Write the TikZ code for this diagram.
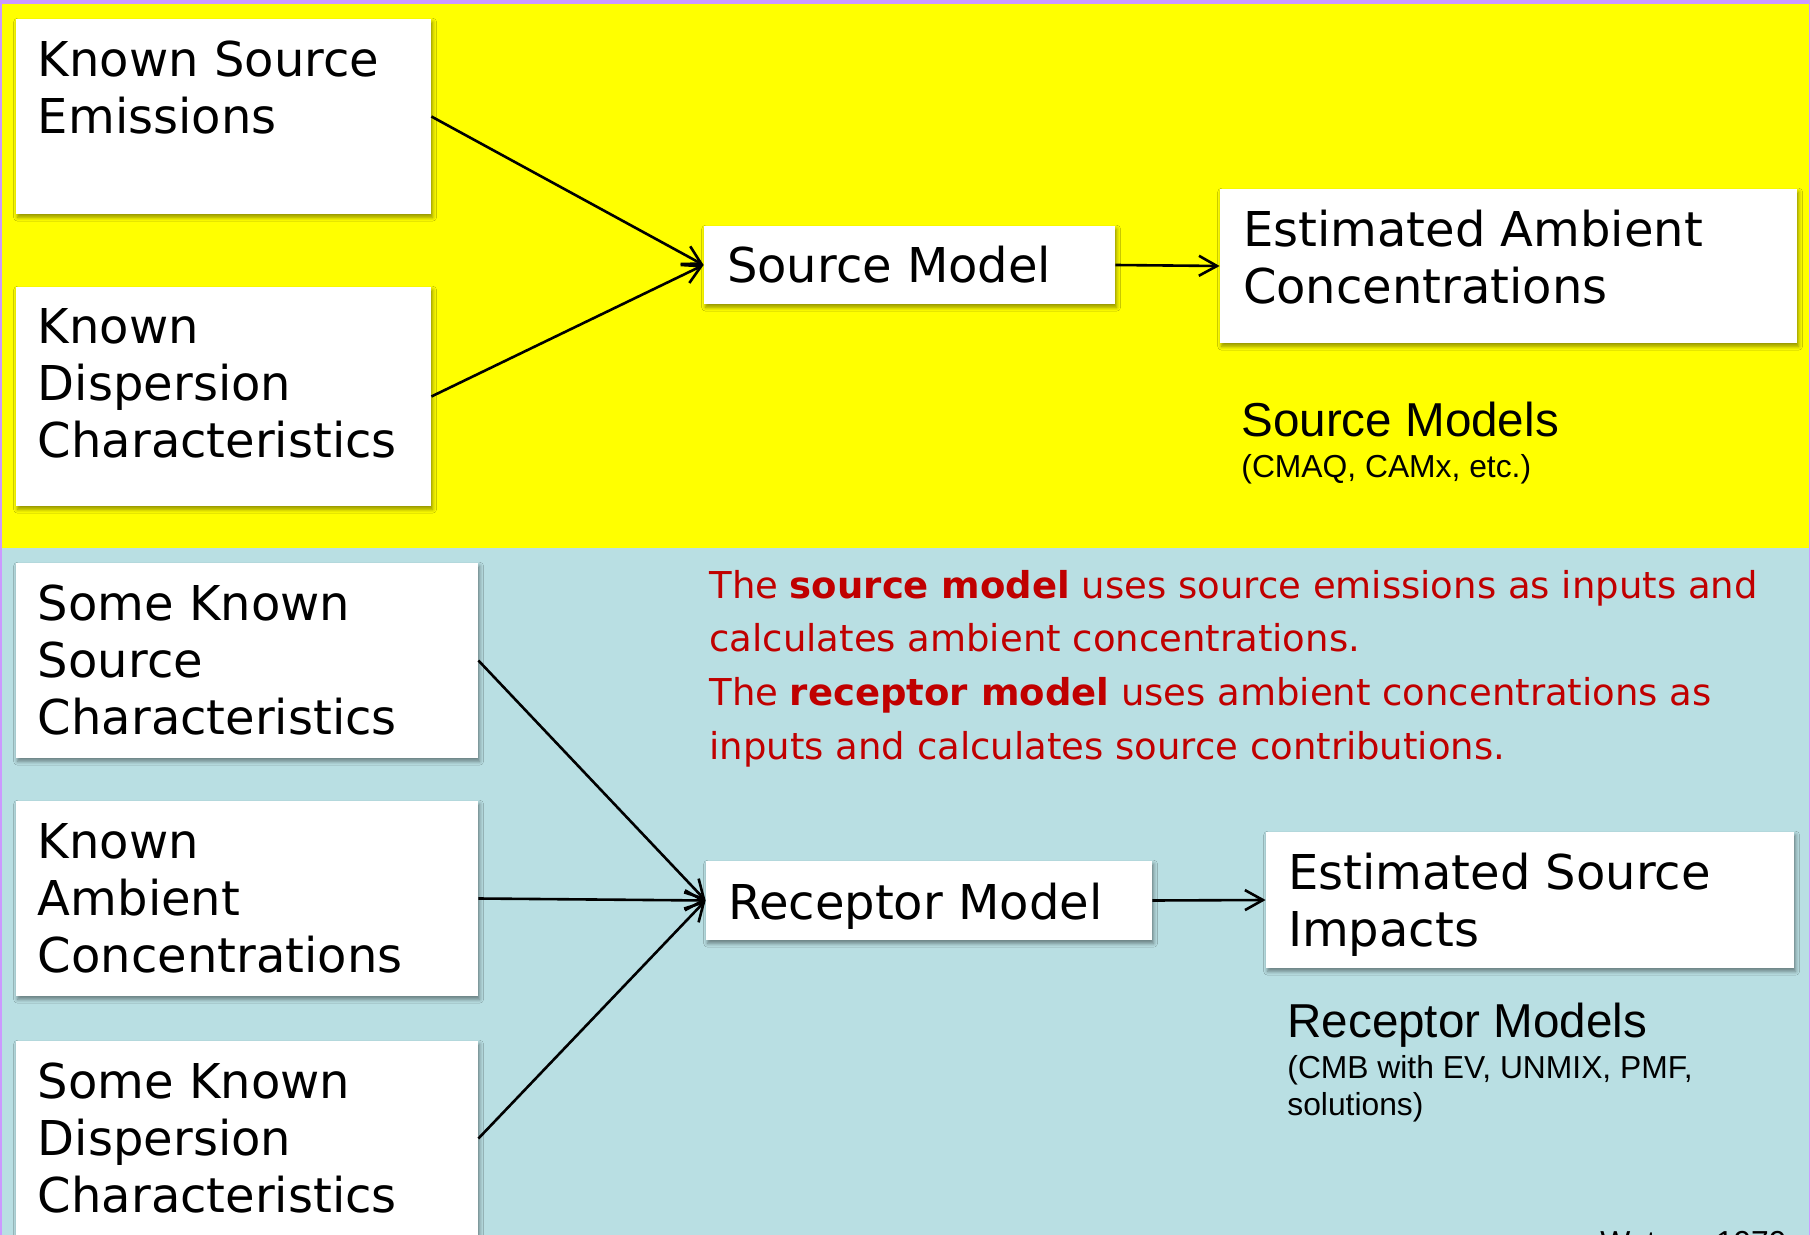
\documentclass[tikz,border=0pt]{standalone}
\usepackage{fontspec}
\setmainfont{DejaVu Sans}
\newfontfamily\arialfont{Liberation Sans}
\usetikzlibrary{arrows.meta,shadows.blur,calc,fit}

\definecolor{framecol}{HTML}{CC99FF}
\definecolor{topband}{HTML}{FFFF00}
\definecolor{lowband}{HTML}{B9DFE3}
\definecolor{notecol}{HTML}{C00000}

\begin{document}
\begin{tikzpicture}[x=0.5pt,y=-0.5pt,
  box/.style={fill=white, draw=none, inner sep=0pt,
    blur shadow={shadow xshift=0.8pt, shadow yshift=-1.6pt,
                 shadow blur radius=2pt, shadow opacity=45}},
  boxtext/.style={inner sep=0pt, anchor=base west,
    font=\fontsize{24}{28.5}\selectfont},
  link/.style={line width=1.3pt,
    -{Straight Barb[length=9pt,width=10pt,line width=1.3pt]}},
  modelname/.style={inner sep=0pt, anchor=base west,
    font=\arialfont\fontsize{23.8}{28}\selectfont},
  modellist/.style={inner sep=0pt, anchor=base west,
    font=\arialfont\fontsize{15.9}{18.5}\selectfont},
]
\useasboundingbox (0,0) rectangle (1810,1235);
\clip (0,0) rectangle (1810,1235);

% background bands
\fill[framecol] (0,0) rectangle (1810,1240);
\fill[topband] (1.5,4) rectangle (1808.5,548);
\fill[lowband] (1.5,548) rectangle (1808.5,1240);

% source-model side
\node[box, fit={(16,19) (431,214)}] (kse) {};
\node[boxtext] (kse-t) at ($(kse.north west)+(22,58)$)
  {\parbox[t]{200pt}{Known Source\\Emissions}};

\node[box, fit={(16,287) (431,506)}] (kdc) {};
\node[boxtext] (kdc-t) at ($(kdc.north west)+(22,57)$)
  {\parbox[t]{200pt}{Known\\Dispersion\\Characteristics}};

\node[box, fit={(704,226) (1115,304)}] (smod) {};
\node[boxtext] (smod-t) at ($(smod.north west)+(23,57)$) {Source Model};

\node[box, fit={(1220,189) (1797,343)}] (eac) {};
\node[boxtext] (eac-t) at ($(eac.north west)+(23,58)$)
  {\parbox[t]{280pt}{Estimated Ambient\\Concentrations}};

\node[modelname] (smlabel) at (1241,437) {Source Models};
\node[modellist] (smlist) at (1241,478) {(CMAQ, CAMx, etc.)};

\draw[link] (kse.east) -- (smod.west);
\draw[link] (kdc.east) -- (smod.west);
\draw[link] (smod.east) -- (eac.west);

% receptor-model side
\node[box, fit={(16,563) (478,758)}] (sksc) {};
\node[boxtext] (sksc-t) at ($(sksc.north west)+(22,58)$)
  {\parbox[t]{220pt}{Some Known\\Source\\Characteristics}};

\node[box, fit={(16,801) (478,996)}] (kac) {};
\node[boxtext] (kac-t) at ($(kac.north west)+(22,58)$)
  {\parbox[t]{220pt}{Known\\Ambient\\Concentrations}};

\node[box, fit={(16,1041) (478,1236)}] (skdc) {};
\node[boxtext] (skdc-t) at ($(skdc.north west)+(22,58)$)
  {\parbox[t]{220pt}{Some Known\\Dispersion\\Characteristics}};

\node[box, fit={(706,861) (1152,940)}] (rmod) {};
\node[boxtext] (rmod-t) at ($(rmod.north west)+(22,59)$) {Receptor Model};

\node[box, fit={(1266,832) (1794,968)}] (esi) {};
\node[boxtext] (esi-t) at ($(esi.north west)+(22,58)$)
  {\parbox[t]{260pt}{Estimated Source\\Impacts}};

\node[modelname] (rmlabel) at (1287,1037) {Receptor Models};
\node[modellist] (rmlist) at (1287,1078)
  {\parbox[t]{260pt}{(CMB with EV, UNMIX, PMF,\\solutions)}};

\draw[link] (sksc.east) -- (rmod.west);
\draw[link] (kac.east) -- (rmod.west);
\draw[link] (skdc.east) -- (rmod.west);
\draw[link] (rmod.east) -- (esi.west);

% explanatory note
\node[inner sep=0pt, anchor=base west, text=notecol,
      font=\fontsize{18.5}{26.85}\selectfont] (note) at (709,598)
  {\parbox[t]{560pt}{The \textbf{source model} uses source emissions as inputs and\\
   calculates ambient concentrations.\\
   The \textbf{receptor model} uses ambient concentrations as\\
   inputs and calculates source contributions.}};

% reference
\node[modellist, anchor=base east] (cite) at (1787,1253) {Watson 1979};
\end{tikzpicture}
\end{document}
